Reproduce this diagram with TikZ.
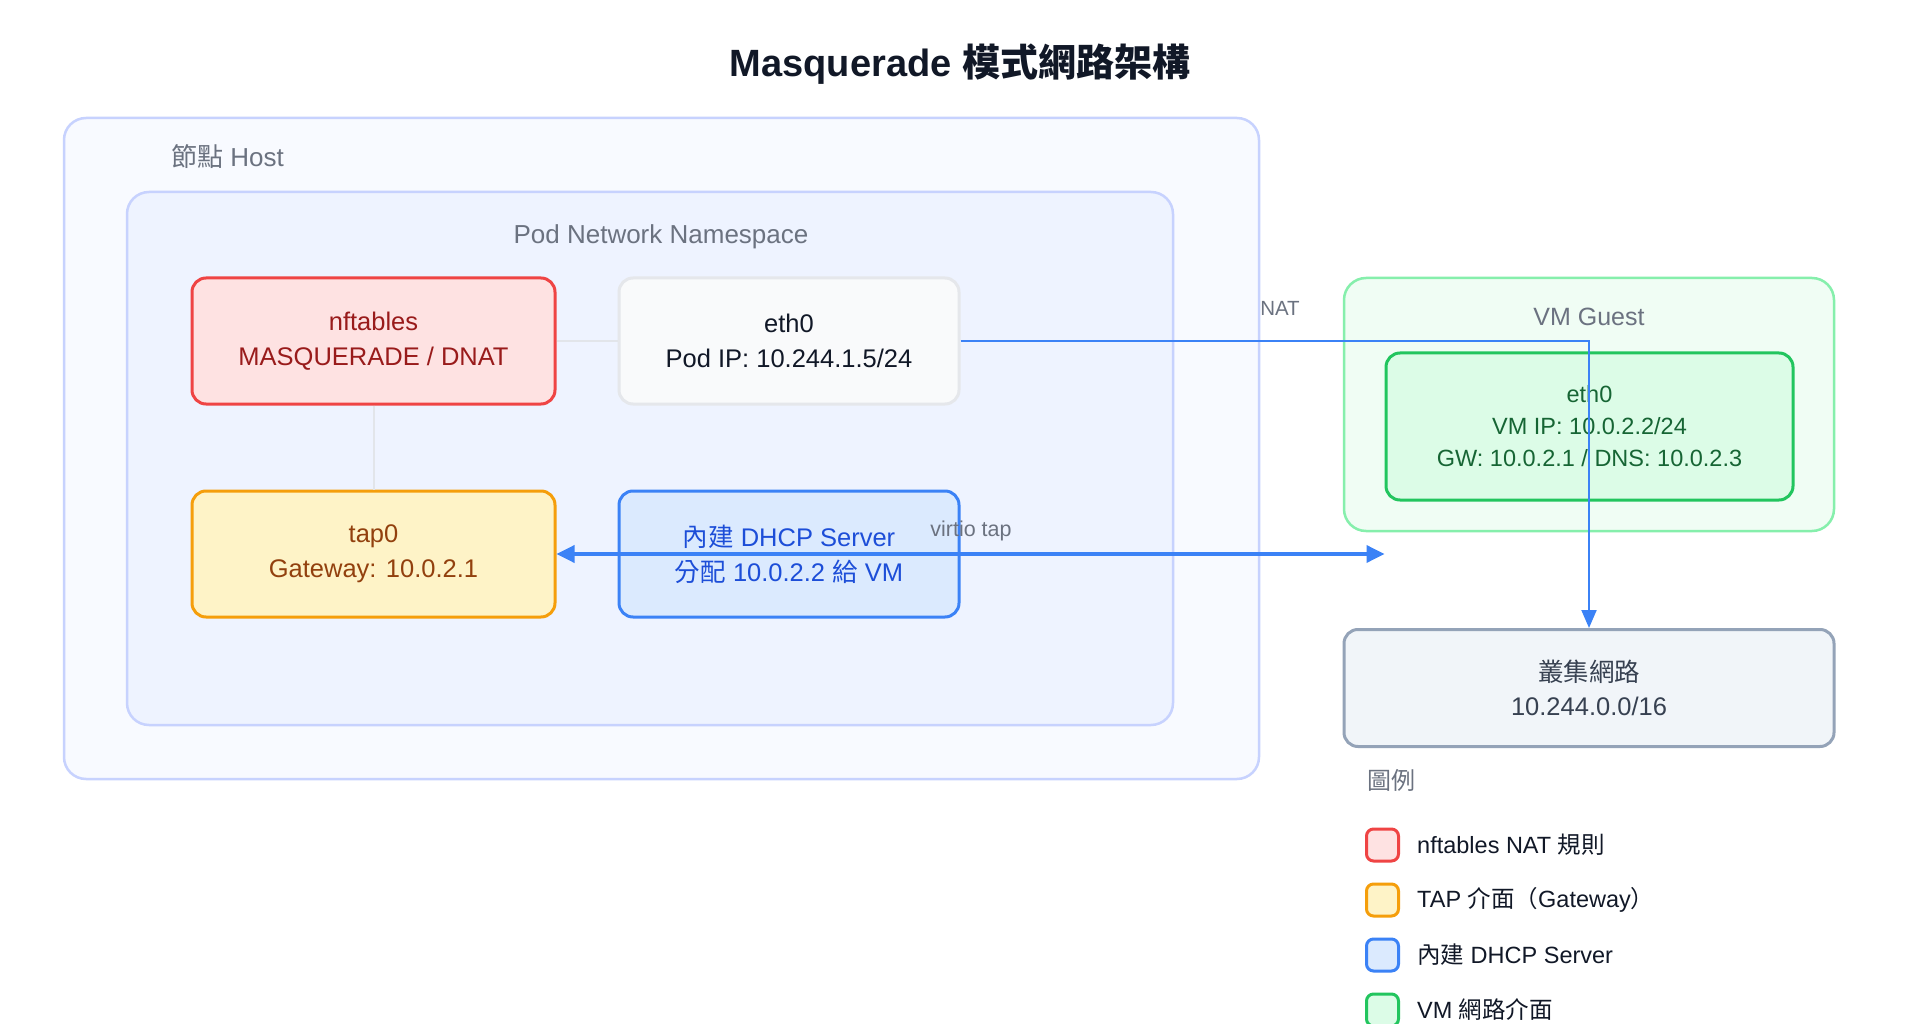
\documentclass[tikz,border=0pt]{standalone}
\usepackage{fontspec}
\setmainfont{Liberation Sans}
\newfontfamily\cjkfont{Noto Sans CJK TC}
\newcommand\zh[1]{{\cjkfont #1}}
\usetikzlibrary{arrows.meta}
\definecolor{titlec}{HTML}{111827}
\definecolor{labelc}{HTML}{6B7280}
\definecolor{hostfill}{HTML}{F8FAFF}
\definecolor{podfill}{HTML}{EEF3FF}
\definecolor{contline}{HTML}{C7D2FE}
\definecolor{nftfill}{HTML}{FEE2E2}
\definecolor{nftline}{HTML}{EF4444}
\definecolor{nfttext}{HTML}{991B1B}
\definecolor{tapfill}{HTML}{FEF3C7}
\definecolor{tapline}{HTML}{F59E0B}
\definecolor{taptext}{HTML}{92400E}
\definecolor{dhcpfill}{HTML}{DBEAFE}
\definecolor{dhcpline}{HTML}{3B82F6}
\definecolor{dhcptext}{HTML}{1D4ED8}
\definecolor{ethfill}{HTML}{F9FAFB}
\definecolor{ethline}{HTML}{E5E7EB}
\definecolor{vmfill}{HTML}{F0FDF4}
\definecolor{vmline}{HTML}{86EFAC}
\definecolor{vmethfill}{HTML}{DCFCE7}
\definecolor{vmethline}{HTML}{22C55E}
\definecolor{vmethtext}{HTML}{166534}
\definecolor{clfill}{HTML}{F1F5F9}
\definecolor{clline}{HTML}{94A3B8}
\definecolor{cltext}{HTML}{374151}
\definecolor{conn}{HTML}{3B82F6}
\definecolor{grayconn}{HTML}{E2E5EA}
\tikzset{
  container/.style={draw=contline, line width=2.5pt, rounded corners=22pt, inner sep=0pt},
  boxnode/.style={draw, line width=3pt, rounded corners=14pt, inner sep=0pt, align=center,
    font=\fontsize{25.5}{35}\selectfont},
  lbl/.style={text=labelc, inner sep=0pt},
  legsq/.style={draw, line width=3pt, rounded corners=7pt, minimum width=32pt, minimum height=32pt, inner sep=0pt},
  legtxt/.style={anchor=west, inner sep=0pt, text=titlec, font=\fontsize{23.5}{27}\selectfont},
  grayline/.style={draw=grayconn, line width=2pt},
  thinarrow/.style={draw=conn, line width=2pt, -{Triangle[length=18pt,width=15pt]}},
  thickarrow/.style={draw=conn, line width=3.5pt, {Triangle[length=18pt,width=17pt]}-{Triangle[length=18pt,width=17pt]}}
}
\begin{document}
\begin{tikzpicture}[x=1pt,y=-1pt]
\clip (0,0) rectangle (1920,1024);
\fill[white] (0,0) rectangle (1920,1024);
% title
\node[inner sep=0pt, text=titlec, font=\fontsize{38}{42}\selectfont\bfseries] (title) at (960,64) {Masquerade \zh{模式網路架構}};
% containers
\node[container, fill=hostfill, minimum width=1195pt, minimum height=661pt] (host) at (661.5,448.5) {};
\node[lbl, anchor=west, font=\fontsize{26}{30}\selectfont] (hostlbl) at (171,157) {\zh{節點} Host};
\node[container, fill=podfill, minimum width=1046pt, minimum height=533pt] (pod) at (650,458.5) {};
\node[lbl, font=\fontsize{26}{30}\selectfont] (podlbl) at (661,236.5) {Pod Network Namespace};
% pod boxes
\node[boxnode, draw=nftline, fill=nftfill, text=nfttext, minimum width=363pt, minimum height=126pt] (nft) at (373.5,341) {\rule{0pt}{1pt}nftables\\MASQUERADE / DNAT};
\node[boxnode, draw=ethline, fill=ethfill, text=titlec, minimum width=340pt, minimum height=126pt] (eth0p) at (789,341) {eth0\\Pod IP: 10.244.1.5/24};
\node[boxnode, draw=tapline, fill=tapfill, text=taptext, minimum width=363pt, minimum height=126pt] (tap) at (373.5,554) {tap0\\Gateway: 10.0.2.1};
\node[boxnode, draw=dhcpline, fill=dhcpfill, text=dhcptext, minimum width=340pt, minimum height=126pt] (dhcp) at (789,554) {\zh{內建} DHCP Server\\\zh{分配} 10.0.2.2 \zh{給} VM};
% VM guest
\node[container, draw=vmline, fill=vmfill, minimum width=490pt, minimum height=253pt] (vm) at (1589,404.5) {};
\node[lbl, font=\fontsize{25}{30}\selectfont] (vmlbl) at (1589,317) {VM Guest};
\node[boxnode, draw=vmethline, fill=vmethfill, text=vmethtext, minimum width=407pt, minimum height=147pt, font=\fontsize{23.5}{32}\selectfont] (vmeth) at (1589.5,426.5) {eth0\\VM IP: 10.0.2.2/24\\GW: 10.0.2.1 / DNS: 10.0.2.3};
% cluster
\node[boxnode, draw=clline, fill=clfill, text=cltext, minimum width=490pt, minimum height=117pt, font=\fontsize{25.5}{34}\selectfont] (cluster) at (1589,688) {\zh{叢集網路}\\10.244.0.0/16};
% connectors
\path[grayline] (nft.east) -- (eth0p.west);
\path[grayline] (nft.south) -- (tap.north);
\coordinate (vtapR) at (vmeth.west |- tap.east);
\path[thickarrow] (tap.east) -- (vtapR);
\path[thinarrow] (eth0p.east) -| (cluster.north);
\node[lbl, font=\fontsize{20.5}{24}\selectfont] (natlbl) at (1280,308) {NAT};
\node[lbl, font=\fontsize{21.5}{24}\selectfont] (vtaplbl) at (971,531) {virtio tap};
% legend
\node[lbl, anchor=west, font=\fontsize{24}{28}\selectfont] (legtitle) at (1367,780) {\zh{圖例}};
\node[legsq, draw=nftline, fill=nftfill] (lg1) at (1382.5,845) {};
\node[legtxt] (lt1) at (1417,845) {nftables NAT \zh{規則}};
\node[legsq, draw=tapline, fill=tapfill] (lg2) at (1382.5,900) {};
\node[legtxt] (lt2) at (1417,900) {TAP \zh{介面（}Gateway\zh{）}};
\node[legsq, draw=dhcpline, fill=dhcpfill] (lg3) at (1382.5,955) {};
\node[legtxt] (lt3) at (1417,955) {\zh{內建} DHCP Server};
\node[legsq, draw=vmethline, fill=vmethfill] (lg4) at (1382.5,1010) {};
\node[legtxt] (lt4) at (1417,1010) {VM \zh{網路介面}};
\end{tikzpicture}
\end{document}
